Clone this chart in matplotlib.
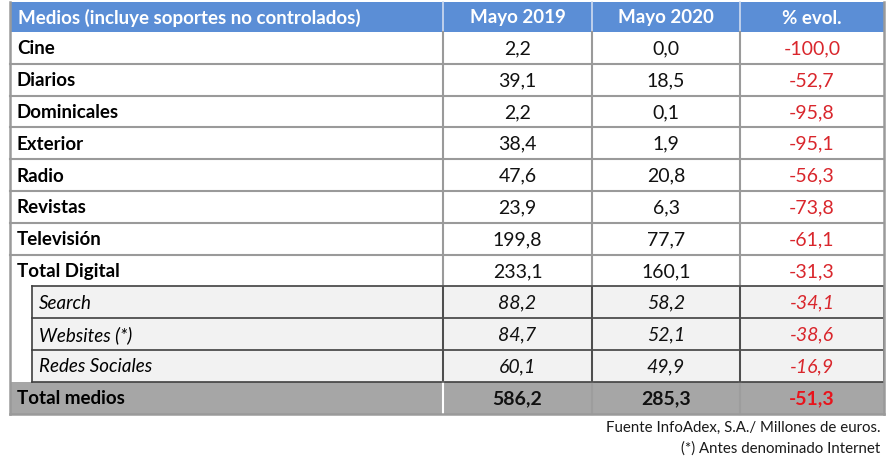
import matplotlib.pyplot as plt
from matplotlib.patches import Rectangle

# Table content
medios = ['Cine', 'Diarios', 'Dominicales', 'Exterior', 'Radio', 'Revistas',
          'Televisión', 'Total Digital', 'Search', 'Websites (*)', 'Redes Sociales',
          'Total medios']
mayo_2019 = [2.2, 39.1, 2.2, 38.4, 47.6, 23.9, 199.8, 233.1, 88.2, 84.7, 60.1, 586.2]
mayo_2020 = [0.0, 18.5, 0.1, 1.9, 20.8, 6.3, 77.7, 160.1, 58.2, 52.1, 49.9, 285.3]
evol = [-100.0, -52.7, -95.8, -95.1, -56.3, -73.8, -61.1, -31.3, -34.1, -38.6, -16.9, -51.3]
headers = ['Medios (incluye soportes no controlados)', 'Mayo 2019', 'Mayo 2020', '% evol.']
sub_rows = ['Search', 'Websites (*)', 'Redes Sociales']
footer = ['Fuente InfoAdex, S.A./ Millones de euros.', '(*) Antes denominado Internet']

plt.rcParams['font.family'] = ['Lato', 'DejaVu Sans']

W, H = 891, 466
fig = plt.figure(figsize=(W / 100, H / 100), dpi=100)
ax = fig.add_axes([0, 0, 1, 1])
ax.set_xlim(0, W)
ax.set_ylim(H, 0)
ax.axis('off')

col_x = [10, 443, 592, 740, 884]
top, head_h, row_h = 2, 30, 31.8
fs = 13.5

def fmt(v):
    return f'{v:.1f}'.replace('.', ',')

# header
ax.add_patch(Rectangle((col_x[0], top), col_x[-1] - col_x[0], head_h,
                       facecolor='#5b8ed6', edgecolor='none'))
for j, h in enumerate(headers):
    if j == 0:
        ax.text(col_x[0] + 8, top + head_h / 2 + 1, h, ha='left', va='center',
                color='white', fontsize=fs, fontweight='bold')
    else:
        ax.text((col_x[j] + col_x[j + 1]) / 2, top + head_h / 2 + 1, h, ha='center',
                va='center', color='white', fontsize=fs, fontweight='bold')
for x in col_x[1:-1]:
    ax.plot([x, x], [top, top + head_h], color='#d0dcf0', lw=1.2)

y0 = top + head_h
n = len(medios)
for i, name in enumerate(medios):
    y = y0 + i * row_h
    cy = y + row_h / 2 + 1
    is_sub = name in sub_rows
    is_total = i == n - 1
    left = 32 if is_sub else col_x[0]
    if is_total:
        ax.add_patch(Rectangle((col_x[0], y), col_x[-1] - col_x[0], row_h,
                               facecolor='#a6a6a6', edgecolor='none'))
    elif is_sub:
        ax.add_patch(Rectangle((left, y), col_x[-1] - left, row_h,
                               facecolor='#f2f2f2', edgecolor='none'))
    style = 'italic' if is_sub else 'normal'
    weight = 'bold' if not is_sub else 'normal'
    ax.text(left + 7, cy, name, ha='left', va='center', fontsize=fs,
            fontweight=weight, fontstyle=style, color='black')
    vals = [fmt(mayo_2019[i]), fmt(mayo_2020[i]), fmt(evol[i])]
    for j, v in enumerate(vals):
        ax.text((col_x[j + 1] + col_x[j + 2]) / 2, cy, v, ha='center', va='center',
                fontsize=14, fontstyle=style,
                fontweight='bold' if is_total else 'normal',
                color=('#e8141c' if is_total else '#d9262c') if j == 2 else '#111111')

# grid lines
for i in range(1, n):
    y = y0 + i * row_h
    if medios[i - 1] in sub_rows or medios[i] in sub_rows:
        ax.plot([32, col_x[-1]], [y, y], color='#404040', lw=1.2)
    else:
        ax.plot([col_x[0], col_x[-1]], [y, y], color='#9a9a9a', lw=1.5)
y_end = y0 + n * row_h
# verticals
for k, x in enumerate(col_x[1:-1]):
    ax.plot([x, x], [y0, y0 + (n - 1) * row_h], color='#9a9a9a', lw=1.5)
    col = 'white' if k == 0 else '#9d9d9d'
    ax.plot([x, x], [y0 + (n - 1) * row_h, y_end], color=col, lw=1.5)
# sub-row lines darker
ys = y0 + 8 * row_h
ye = y0 + 11 * row_h
for x in col_x[1:]:
    ax.plot([x, x], [ys, ye], color='#404040', lw=1.2)
ax.plot([32, 32], [ys, ye], color='#404040', lw=1.2)
# outer border
ax.plot([col_x[0], col_x[0]], [top, y_end], color='#9a9a9a', lw=1.8)
ax.plot([col_x[-1], col_x[-1]], [top, y_end], color='#9a9a9a', lw=1.8)
ax.plot([col_x[0], col_x[-1]], [y_end, y_end], color='#9a9a9a', lw=1.8)

# footer
for k, t in enumerate(footer):
    ax.text(880, y_end + 14 + k * 21, t, ha='right', va='center', fontsize=10.8,
            color='#1a1a1a')

fig.savefig('out.png', dpi=100)
